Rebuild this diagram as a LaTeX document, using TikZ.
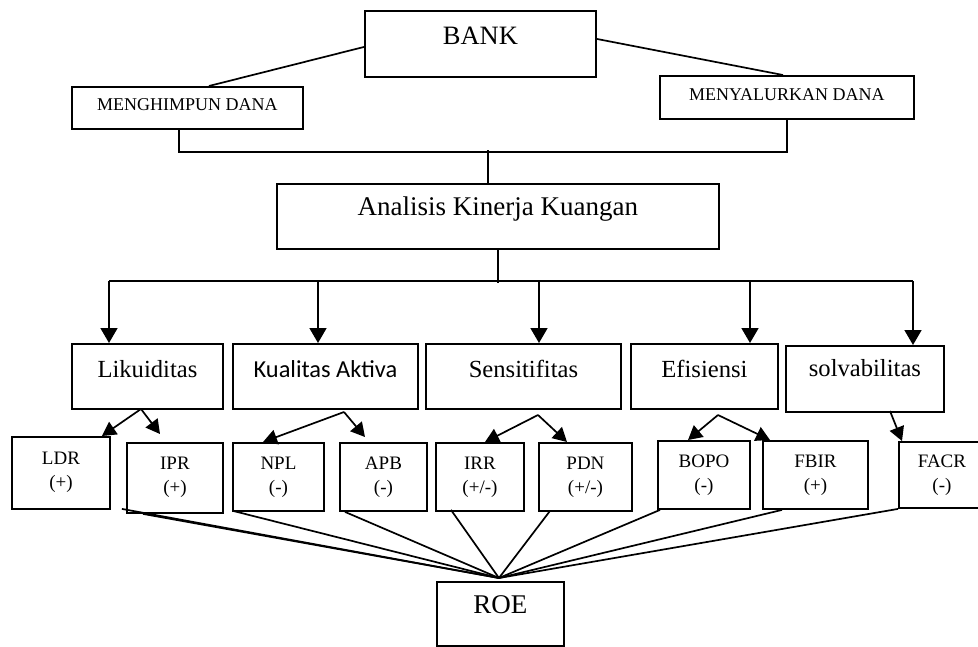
\documentclass[tikz,border=0pt]{standalone}
\usepackage{fontspec}
\setmainfont{Liberation Serif}
\newfontfamily\carlfont{Carlito}
\usetikzlibrary{arrows.meta,calc}
\begin{document}
\begin{tikzpicture}[x=1pt,y=-1pt,
  box/.style={draw,line width=1.9pt,inner sep=0pt,anchor=north west,align=center},
  con/.style={line width=1.7pt},
  bigarr/.style={con,-{Triangle[length=15pt,width=17pt]}},
  smallarr/.style={con,-{Triangle[length=14pt,width=15pt]}},
  bigfont/.style={font=\fontsize{26.5}{30}\selectfont},
  capfont/.style={font=\fontsize{18}{22}\selectfont},
  midfont/.style={font=\fontsize{24.6}{28}\selectfont},
  smlfont/.style={font=\fontsize{19}{24}\selectfont},
  lvltwo/.style={box,midfont,text height=34,text depth=31},
  lvlthree/.style={box,smlfont,text height=51,text depth=17}
  ]
\useasboundingbox (0,0) rectangle (978,646);
\clip (0,0) rectangle (978,646);

% top level
\node[box,bigfont,minimum width=231,text height=34,text depth=32] (bank) at (364,10) {BANK};
\node[box,capfont,minimum width=231,text height=24,text depth=18] (mh) at (71,86) {MENGHIMPUN DANA};
\node[box,capfont,minimum width=254,text height=25,text depth=18] (my) at (659,75) {MENYALURKAN DANA};
\node[box,font=\fontsize{27}{30}\selectfont,minimum width=442,text height=32,text depth=33] (ana) at (276,183) {Analisis Kinerja Kuangan};

% second level
\node[lvltwo,minimum width=151] (lik) at (71,343) {Likuiditas};
\node[lvltwo,font=\carlfont\fontsize{24.4}{28}\selectfont,minimum width=185] (kua) at (232,343) {Kualitas Aktiva};
\node[lvltwo,minimum width=195] (sen) at (425,343) {Sensitifitas};
\node[lvltwo,minimum width=147] (efi) at (630,343) {Efisiensi};
\node[box,midfont,minimum width=158,text height=31,text depth=35] (sol) at (785,345) {solvabilitas};

% third level
\node[box,smlfont,minimum width=98,text height=52,text depth=20] (ldr) at (11,436) {LDR\\(+)};
\node[box,smlfont,minimum width=96,text height=51,text depth=19] (ipr) at (126,442) {IPR\\(+)};
\node[lvlthree,minimum width=91] (npl) at (232,442) {NPL\\(-)};
\node[lvlthree,minimum width=87] (apb) at (339,442) {APB\\(-)};
\node[lvlthree,minimum width=88] (irr) at (435,442) {IRR\\(+/-)};
\node[lvlthree,minimum width=93] (pdn) at (538,442) {PDN\\(+/-)};
\node[lvlthree,minimum width=92] (bopo) at (657,440) {BOPO\\(-)};
\node[lvlthree,minimum width=105] (fbir) at (762,440) {FBIR\\(+)};
\node[box,smlfont,minimum width=86,text height=50,text depth=16] (facr) at (898,441) {FACR\\(-)};

% bottom
\node[box,font=\fontsize{27}{30}\selectfont,minimum width=127,text height=32,text depth=32] (roe) at (436,581) {ROE};

% top connectors
\draw[con] ($(bank.west)+(0,3)$) -- ($(mh.north)+(21.5,0)$);
\draw[con] ($(bank.east)+(0,-5)$) -- ($(my.north)+(-4,0)$);
\draw[con] ($(mh.south)+(-8.5,0)$) -- ++(0,22) -| (my.south);
\coordinate (j) at (488,150);
\draw[con] (j) -- (j |- ana.north);

% distribution bar
\draw[con] (ana.south) -- ++(0,33);
\coordinate (a1) at (109,281);
\coordinate (a2) at (318,281);
\coordinate (a3) at (539,281);
\coordinate (a4) at (750,281);
\coordinate (a5) at (913,281);
\draw[con] (a1) -- (a5);
\draw[bigarr] (a1) -- (a1 |- lik.north);
\draw[bigarr] (a2) -- (a2 |- kua.north);
\draw[bigarr] (a3) -- (a3 |- sen.north);
\draw[bigarr] (a4) -- (a4 |- efi.north);
\draw[bigarr] (a5) -- (a5 |- sol.north);

% second to third level
\coordinate (p1) at (141,409);
\coordinate (p2) at (344,412);
\coordinate (p3) at (538,415);
\coordinate (p4) at (718,415);
\coordinate (p5) at (890,411);
\draw[smallarr] (p1) -- ($(ldr.north east)+(-9,0)$);
\draw[smallarr] (p1) -- ($(ipr.north west)+(34,-8)$);
\draw[smallarr] (p2) -- ($(npl.north west)+(31,0)$);
\draw[smallarr] (p2) -- ($(apb.north west)+(26,-5)$);
\draw[smallarr] (p3) -- ($(irr.north west)+(50,0)$);
\draw[smallarr] (p3) -- ($(pdn.north west)+(29,0)$);
\draw[smallarr] (p4) -- ($(bopo.north west)+(31,0)$);
\draw[smallarr] (p4) -- ($(fbir.north west)+(8,0)$);
\draw[smallarr] (p5) -- ($(facr.north west)+(4,0)$);

% to ROE
\coordinate (r) at ($(roe.north)+(-1.5,-3)$);
\draw[con] ($(ldr.south east)+(11,-1)$) -- (r);
\draw[con] ($(ipr.south west)+(17,0)$) -- (r);
\draw[con] ($(npl.south west)+(1,-1)$) -- (r);
\draw[con] ($(apb.south west)+(6,0)$) -- (r);
\draw[con] ($(irr.south west)+(16,-2)$) -- (r);
\draw[con] ($(pdn.south west)+(12,-1)$) -- (r);
\draw[con] ($(bopo.south west)+(3,0)$) -- (r);
\draw[con] ($(fbir.south west)+(20,0)$) -- (r);
\draw[con] (facr.south west) -- (r);
\end{tikzpicture}
\end{document}
